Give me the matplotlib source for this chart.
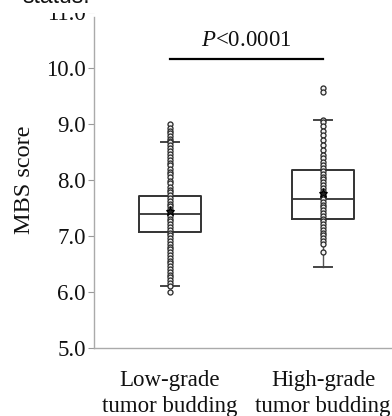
import matplotlib
matplotlib.use("Agg")
import matplotlib.pyplot as plt
from matplotlib.patches import Rectangle

# ---- data ----
categories = ["Low-grade\ntumor budding", "High-grade\ntumor budding"]
low_points = [9.00, 8.93, 8.88, 8.84, 8.79, 8.74, 8.70, 8.68, 8.62, 8.57, 8.52, 8.47,
              8.41, 8.36, 8.31, 8.26, 8.20, 8.15, 8.10, 8.05, 7.99, 7.94, 7.88, 7.83,
              7.78, 7.73, 7.68, 7.63, 7.58, 7.53, 7.48, 7.44, 7.40, 7.36, 7.31, 7.26,
              7.21, 7.16, 7.11, 7.06, 7.01, 6.96, 6.91, 6.86, 6.81, 6.76, 6.71, 6.66,
              6.61, 6.56, 6.51, 6.46, 6.41, 6.36, 6.31, 6.26, 6.21, 6.16, 6.11, 6.00]
high_points = [9.65, 9.57, 9.07, 9.04, 8.96, 8.88, 8.80, 8.71, 8.62, 8.54, 8.45, 8.39,
               8.32, 8.27, 8.21, 8.16, 8.11, 8.06, 8.01, 7.96, 7.91, 7.86, 7.81, 7.76,
               7.71, 7.66, 7.61, 7.56, 7.51, 7.46, 7.41, 7.36, 7.31, 7.26, 7.21, 7.16,
               7.11, 7.06, 7.01, 6.96, 6.91, 6.86, 6.72]
q1 = [7.08, 7.31]
median = [7.39, 7.66]
q3 = [7.71, 8.18]
whisker_low = [6.11, 6.45]
whisker_high = [8.68, 9.07]
means = [7.44, 7.76]
p_text = "$P$<0.0001"
bracket_y = 10.16
y_ticks = [5.0, 6.0, 7.0, 8.0, 9.0, 10.0, 11.0]

plt.rcParams['font.family'] = ['Liberation Serif', 'DejaVu Serif']
plt.rcParams['mathtext.fontset'] = 'custom'
plt.rcParams['mathtext.it'] = 'Liberation Serif:italic'
plt.rcParams['mathtext.rm'] = 'Liberation Serif'

fig = plt.figure(figsize=(3.92, 4.16), dpi=100)
ax = fig.add_axes([94/392, 1 - 348/416, 1 - 94/392, (348 - 12)/416])

positions = [1, 2]
stats = []
for i in range(2):
    stats.append(dict(med=median[i], q1=q1[i], q3=q3[i],
                      whislo=whisker_low[i], whishi=whisker_high[i], fliers=[]))
box_col = '#333333'
ax.bxp(stats, positions=positions, widths=0.405, showfliers=False,
       boxprops=dict(color=box_col, linewidth=1.4),
       medianprops=dict(color=box_col, linewidth=1.3),
       whiskerprops=dict(color='#555555', linewidth=1.0),
       capprops=dict(color='#444444', linewidth=1.4),
       capwidths=0.118, zorder=2)

for pos, pts in zip(positions, [low_points, high_points]):
    ax.plot([pos] * len(pts), pts, linestyle='none', marker='o', markersize=3.6,
            markerfacecolor='#f4f4f4', markeredgecolor='#2e2e2e', markeredgewidth=0.95, zorder=3)

ax.plot(positions, means, linestyle='none', marker='*', markersize=6.5,
        markerfacecolor='#222222', markeredgecolor='black', markeredgewidth=0.8, zorder=4)

# significance bracket
ax.plot(positions, [bracket_y, bracket_y], color='black', linewidth=1.6, zorder=3)
ax.text(1.5, bracket_y + 0.33, p_text, ha='center', va='center', fontsize=16.5, color='#111111')

ax.set_xlim(1 - 76/153, 2 + 69/153)
ax.set_ylim(5.0, 11.0)
ax.set_yticks(y_ticks)
ax.set_yticklabels([f"{v:.1f}" for v in y_ticks])
ax.set_xticks(positions)
ax.set_xticklabels(categories, linespacing=1.32)
ax.tick_params(axis='y', length=4, width=0.8, color='#999999', pad=2, labelsize=16.5, labelcolor='#111111')
ax.tick_params(axis='x', length=0, pad=16, labelsize=16.5, labelcolor='#111111')
ax.set_ylabel("MBS score", fontsize=17.5, color='#111111', labelpad=8)

for s in ['top', 'right']:
    ax.spines[s].set_visible(False)
for s in ['left', 'bottom']:
    ax.spines[s].set_color('#aaaaaa')
    ax.spines[s].set_linewidth(1.0)
ax.spines['left'].set_bounds(5.0, 10.91)

# cropped top area of the source figure
fig.patches.append(Rectangle((0, 1 - 13/416), 1, 13/416, transform=fig.transFigure,
                             facecolor='white', edgecolor='none', zorder=10))
fig.text(22/392, 1 - 3/416, "status.", fontsize=16.5, family='Liberation Sans',
         va='baseline', ha='left', color='#111111', zorder=11)

fig.savefig("out.png", dpi=100)
